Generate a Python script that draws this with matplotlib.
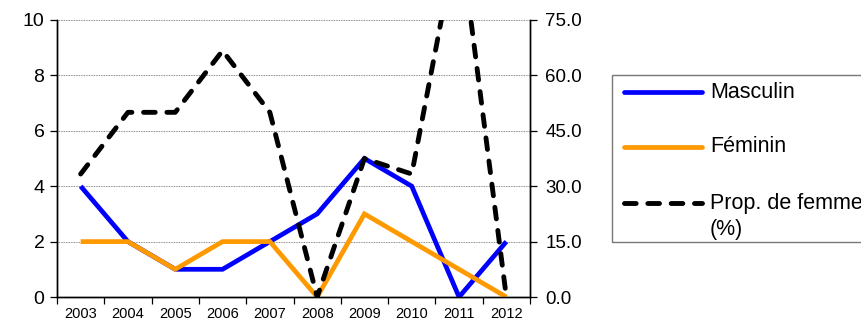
import matplotlib
matplotlib.use("Agg")
import matplotlib.pyplot as plt
from matplotlib.ticker import FixedLocator, NullFormatter
from matplotlib.lines import Line2D
from matplotlib.patches import Rectangle

plt.rcParams['font.family'] = ['Liberation Sans', 'DejaVu Sans']

years = ['2003', '2004', '2005', '2006', '2007', '2008', '2009', '2010', '2011', '2012']
masculin = [4, 2, 1, 1, 2, 3, 5, 4, 0, 2]
feminin = [2, 2, 1, 2, 2, 0, 3, 2, 1, 0]
prop_femmes = [33.3, 50.0, 50.0, 66.7, 50.0, 0.0, 37.5, 33.3, 100.0, 0.0]
labels = ['Masculin', 'Féminin', 'Prop. de femmes', '(%)']

W, H = 862, 320
fig = plt.figure(figsize=(W/100, H/100), dpi=100)
ax = fig.add_axes([57/W, 1-297/H, (530-57)/W, (297-20)/H])
ax2 = ax.twinx()

blue_style = dict(color='#0000FF', lw=3.4, solid_joinstyle='miter')
orange_style = dict(color='#FF9900', lw=3.4, solid_joinstyle='miter')
dash_style = dict(color='black', lw=3.5, dashes=(2.4, 2.4), dash_capstyle='round')

x = list(range(len(years)))
ax.plot(x, masculin, zorder=3, solid_capstyle='butt', **blue_style)
ax.plot(x, feminin, zorder=3, solid_capstyle='butt', **orange_style)
ax2.plot(x, prop_femmes, zorder=4, **dash_style)

ax.set_xlim(-0.5, len(years) - 0.5)
ax.set_ylim(0, 10)
ax2.set_ylim(0, 75)
ax.set_yticks([0, 2, 4, 6, 8, 10])
r_ticks = [0, 15, 30, 45, 60, 75]
ax2.set_yticks(r_ticks)
ax2.set_yticklabels([f'{v:.1f}' for v in r_ticks])

ax.set_xticks(x)
ax.set_xticklabels(years, fontsize=10.5)
ax.tick_params(axis='x', which='major', length=0, pad=7)
ax.xaxis.set_minor_locator(FixedLocator([i - 0.5 for i in range(len(years) + 1)]))
ax.xaxis.set_minor_formatter(NullFormatter())
ax.tick_params(axis='x', which='minor', length=5, direction='out', width=0.9)
ax.tick_params(axis='y', labelsize=14, length=5, direction='out', width=0.9, pad=4)
ax2.tick_params(axis='y', labelsize=13.5, length=5, direction='out', width=0.9, pad=6)

ax.grid(axis='y', color='#666666', linestyle=(0, (1, 1)), linewidth=0.6)
ax.set_axisbelow(True)
for a in (ax, ax2):
    a.spines['top'].set_visible(False)
    for sp in a.spines.values():
        sp.set_linewidth(1.0)

# Legend (Excel-style, frame running off the right edge)
tf = fig.transFigure
def fx(px):
    return px / W
def fy(py):
    return 1 - py / H

fig.add_artist(Rectangle((fx(612), fy(242)), fx(900) - fx(612), fy(75) - fy(242),
                         transform=tf, fill=False, edgecolor='#777777', lw=1.0, clip_on=False))
rows = [(92, blue_style, 'round'), (147, orange_style, 'round'), (203, dash_style, 'butt')]
for (yy, st, cap), lab in zip(rows, labels[:3]):
    fig.add_artist(Line2D([fx(624), fx(702)], [fy(yy), fy(yy)], transform=tf,
                          solid_capstyle=cap, **st))
    fig.text(fx(710), fy(yy), lab, fontsize=15.5, va='center', ha='left')
fig.text(fx(710), fy(230), labels[3], fontsize=15.5, va='center', ha='left')

fig.savefig('out.png', dpi=100)
